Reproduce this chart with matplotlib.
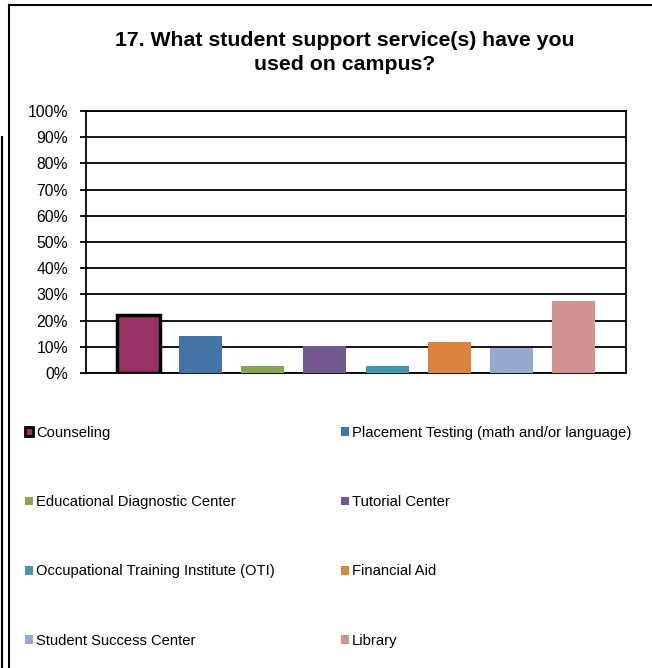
import matplotlib
matplotlib.use("Agg")
import matplotlib.pyplot as plt
from matplotlib.patches import Patch
from matplotlib.lines import Line2D
from matplotlib.ticker import FuncFormatter

plt.rcParams['font.family'] = ['Liberation Sans', 'DejaVu Sans']

categories = [
    "Counseling",
    "Placement Testing (math and/or language)",
    "Educational Diagnostic Center",
    "Tutorial Center",
    "Occupational Training Institute (OTI)",
    "Financial Aid",
    "Student Success Center",
    "Library",
]
values = [22.0, 14.0, 2.8, 10.2, 2.8, 12.0, 9.5, 27.4]
colors = ["#993366", "#4572A7", "#89A54E", "#71588F",
          "#4198AF", "#DB843D", "#93A9CF", "#D19392"]
yticks = list(range(0, 101, 10))

W, H = 652, 668
fig = plt.figure(figsize=(W / 100, H / 100), dpi=100)
fig.patch.set_facecolor("white")

ax = fig.add_axes([86 / W, 1 - 373 / H, (626 - 86) / W, (373 - 111) / H])

x = list(range(len(categories)))
bars = ax.bar(x, values, width=0.69, color=colors, zorder=3)
bars[0].set_edgecolor("black")
bars[0].set_linewidth(2.5)

ax.set_xlim(-0.84, 7.84)
ax.set_ylim(0, 100)
ax.set_yticks(yticks)
ax.yaxis.set_major_formatter(FuncFormatter(lambda v, p: f"{int(v)}%"))
ax.set_xticks([])
ax.grid(axis="y", color="black", linewidth=1.3, zorder=1)
ax.tick_params(axis="y", length=4.3, width=1.3, color="black",
               labelsize=11.3, pad=8.6)
for s in ax.spines.values():
    s.set_linewidth(1.3)
    s.set_color("black")

fig.text(0.528, 1 - 52.5 / H, "17. What student support service(s) have you\nused on campus?",
         ha="center", va="center", fontsize=15.3, fontweight="bold",
         linespacing=1.37)

handles = []
for i, (c, lab) in enumerate(zip(colors, categories)):
    if i == 0:
        handles.append(Patch(facecolor=c, edgecolor="black", linewidth=2, label=lab))
    else:
        handles.append(Patch(facecolor=c, edgecolor="none", label=lab))
order = [0, 2, 4, 6, 1, 3, 5, 7]
fig.legend([handles[i] for i in order], [categories[i] for i in order],
           ncol=2, loc="upper left", bbox_to_anchor=(25 / W, 1 - 426 / H),
           frameon=False, fontsize=10.6, handlelength=0.55, handleheight=0.55,
           handletextpad=0.2, columnspacing=4.5, labelspacing=3.75,
           borderaxespad=0, borderpad=0)

# chart frame
fig.add_artist(Line2D([9 / W, 1.0], [1 - 5 / H, 1 - 5 / H], transform=fig.transFigure,
                      color="black", linewidth=1.5))
fig.add_artist(Line2D([9 / W, 9 / W], [1 - 5 / H, 0.0], transform=fig.transFigure,
                      color="black", linewidth=1.5))
fig.add_artist(Line2D([1.5 / W, 1.5 / W], [1 - 137 / H, 0.0], transform=fig.transFigure,
                      color="black", linewidth=1.5))

fig.savefig("out.png", dpi=100)
